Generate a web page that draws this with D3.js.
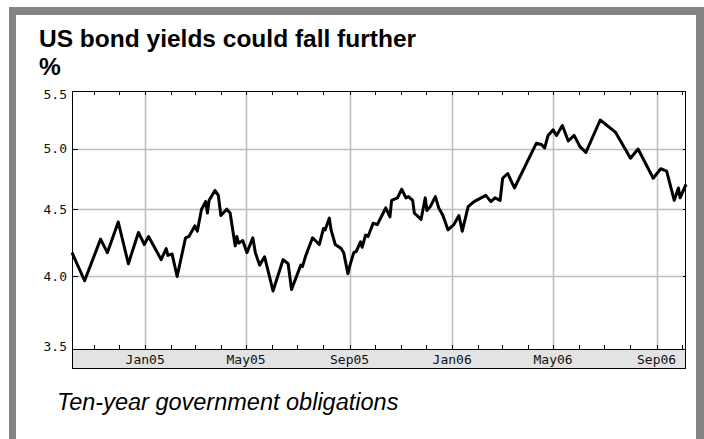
<!DOCTYPE html>
<html>
<head>
<meta charset="utf-8">
<script src="https://cdn.jsdelivr.net/npm/d3@7"></script>
<style>
  body { margin: 0; background: #fff; }
  svg { display: block; }
</style>
</head>
<body>
<svg width="704" height="439"></svg>
<script>
// ten-year yields (key turning points)
var dates = [
  "2004-10-06","2004-10-21","2004-11-09","2004-11-17","2004-11-30","2004-12-12","2004-12-24","2004-12-31",
  "2005-01-05","2005-01-20","2005-01-26","2005-01-28","2005-02-02","2005-02-08","2005-02-18","2005-02-22",
  "2005-03-01","2005-03-04","2005-03-09","2005-03-14","2005-03-16","2005-03-18","2005-03-25","2005-03-29",
  "2005-04-01","2005-04-08","2005-04-12","2005-04-18","2005-04-20","2005-04-22","2005-04-27","2005-05-02",
  "2005-05-09","2005-05-12","2005-05-17","2005-05-23","2005-06-02","2005-06-14","2005-06-20","2005-06-24",
  "2005-07-05","2005-07-07","2005-07-11","2005-07-19","2005-07-27","2005-08-01","2005-08-03","2005-08-08",
  "2005-08-10","2005-08-15","2005-08-22","2005-08-25","2005-08-30","2005-09-02","2005-09-06","2005-09-09",
  "2005-09-14","2005-09-16","2005-09-20","2005-09-23","2005-09-29","2005-10-04","2005-10-11","2005-10-14",
  "2005-10-19","2005-10-21","2005-10-28","2005-11-02","2005-11-07","2005-11-10","2005-11-15","2005-11-17",
  "2005-11-25","2005-11-30","2005-12-02","2005-12-06","2005-12-12","2005-12-16","2005-12-21","2005-12-27",
  "2006-01-03","2006-01-09","2006-01-13","2006-01-20","2006-01-27","2006-02-10","2006-02-16","2006-02-21",
  "2006-02-27","2006-03-02","2006-03-08","2006-03-16","2006-04-11","2006-04-17","2006-04-21","2006-04-25",
  "2006-05-01","2006-05-05","2006-05-12","2006-05-19","2006-05-26","2006-06-02","2006-06-09","2006-06-26",
  "2006-07-14","2006-08-01","2006-08-10","2006-08-28","2006-09-06","2006-09-13","2006-09-22","2006-09-27",
  "2006-09-29","2006-10-06"
];
var yields = [
  4.17, 3.97, 4.27, 4.17, 4.40, 4.09, 4.32, 4.23,
  4.29, 4.12, 4.20, 4.15, 4.16, 4.00, 4.28, 4.29,
  4.37, 4.33, 4.50, 4.56, 4.47, 4.57, 4.65, 4.61,
  4.45, 4.50, 4.47, 4.22, 4.29, 4.24, 4.26, 4.17,
  4.28, 4.17, 4.08, 4.14, 3.90, 4.12, 4.09, 3.91,
  4.08, 4.07, 4.15, 4.28, 4.23, 4.35, 4.34, 4.43,
  4.34, 4.23, 4.20, 4.17, 4.02, 4.09, 4.17, 4.18,
  4.25, 4.21, 4.30, 4.29, 4.39, 4.38, 4.47, 4.51,
  4.44, 4.57, 4.59, 4.66, 4.59, 4.60, 4.57, 4.47,
  4.42, 4.59, 4.49, 4.52, 4.60, 4.51, 4.45, 4.34,
  4.38, 4.45, 4.33, 4.52, 4.56, 4.61, 4.56, 4.59,
  4.57, 4.75, 4.79, 4.67, 5.05, 5.04, 5.01, 5.12,
  5.17, 5.12, 5.21, 5.07, 5.12, 5.02, 4.97, 5.26,
  5.15, 4.92, 5.00, 4.75, 4.83, 4.81, 4.57, 4.67,
  4.59, 4.70
];
var yTicks = [3.5, 4.0, 4.5, 5.0, 5.5];
var yGrid = [4.0, 4.5, 5.0];
var xMajor = ["2005-01-01","2005-05-01","2005-09-01","2006-01-01","2006-05-01","2006-09-01"];

var parse = d3.utcParse("%Y-%m-%d");
var data = dates.map(function(d, i) { return {date: parse(d), value: yields[i]}; });

function draw() {
  var svg = d3.select("svg");
  var pl = 72, pr = 686, pt = 91, pb = 349, band = 20;

  // grey frame
  svg.append("rect").attr("x", 9).attr("y", 7).attr("width", 695).attr("height", 440).attr("fill", "#848484");
  svg.append("rect").attr("x", 16).attr("y", 15).attr("width", 680).attr("height", 430).attr("fill", "#fff");

  svg.append("text")
     .attr("x", 39).attr("y", 47)
     .attr("font-family", "Liberation Sans, Arial, sans-serif")
     .attr("font-weight", "bold").attr("font-size", "24.5px")
     .text("US bond yields could fall further");
  svg.append("text")
     .attr("x", 39).attr("y", 75)
     .attr("font-family", "Liberation Sans, Arial, sans-serif")
     .attr("font-weight", "bold").attr("font-size", "24.5px")
     .text("%");
  svg.append("text")
     .attr("x", 57).attr("y", 410)
     .attr("font-family", "Liberation Sans, Arial, sans-serif")
     .attr("font-style", "italic").attr("font-size", "23.5px")
     .text("Ten-year government obligations");

  var xScale = d3.scaleUtc().domain([parse("2004-10-06"), parse("2006-10-06")]).range([pl, pr]),
      yScale = d3.scaleLog().domain([3.523, 5.534]).range([pb, pt]);

  var mono = "DejaVu Sans Mono, monospace";
  var px = function(v) { return Math.round(v) + 0.5; };

  // grid
  svg.append("g").selectAll("line").data(yGrid).enter().append("line")
     .attr("x1", pl).attr("x2", pr)
     .attr("y1", function(d) { return px(yScale(d)); })
     .attr("y2", function(d) { return px(yScale(d)); })
     .attr("stroke", "#bdbdbd").attr("stroke-width", 1.5);
  svg.append("g").selectAll("line").data(xMajor).enter().append("line")
     .attr("x1", function(d) { return px(xScale(parse(d))); })
     .attr("x2", function(d) { return px(xScale(parse(d))); })
     .attr("y1", pt).attr("y2", pb)
     .attr("stroke", "#bdbdbd").attr("stroke-width", 1.5);

  // date band
  svg.append("rect").attr("x", pl).attr("y", pb).attr("width", pr - pl).attr("height", band)
     .attr("fill", "#e3e3e3");

  // monthly ticks top and bottom
  var months = d3.utcMonth.range(xScale.domain()[0], xScale.domain()[1]);
  svg.append("g").selectAll("line").data(months).enter().append("line")
     .attr("x1", function(d) { return px(xScale(d)); })
     .attr("x2", function(d) { return px(xScale(d)); })
     .attr("y1", pt).attr("y2", pt + 4)
     .attr("stroke", "#000");
  svg.append("g").selectAll("line").data(months).enter().append("line")
     .attr("x1", function(d) { return px(xScale(d)); })
     .attr("x2", function(d) { return px(xScale(d)); })
     .attr("y1", pb - 4).attr("y2", pb)
     .attr("stroke", "#000");

  // y ticks on both sides
  svg.append("g").selectAll("line").data(yGrid).enter().append("line")
     .attr("x1", pl).attr("x2", pl + 6)
     .attr("y1", function(d) { return px(yScale(d)); })
     .attr("y2", function(d) { return px(yScale(d)); })
     .attr("stroke", "#000");
  svg.append("g").selectAll("line").data(yGrid).enter().append("line")
     .attr("x1", pr - 3).attr("x2", pr)
     .attr("y1", function(d) { return px(yScale(d)); })
     .attr("y2", function(d) { return px(yScale(d)); })
     .attr("stroke", "#000");

  svg.append("g").selectAll("text").data(yTicks).enter().append("text")
     .attr("x", pl - 5)
     .attr("y", function(d) { return Math.min(yScale(d), pb - 3) + 4.5; })
     .attr("text-anchor", "end")
     .attr("font-family", mono).attr("font-size", "13px").attr("fill", "#111")
     .text(function(d) { return d.toFixed(1); });

  svg.append("g").selectAll("text").data(xMajor).enter().append("text")
     .attr("x", function(d) { return xScale(parse(d)); })
     .attr("y", pb + 15)
     .attr("text-anchor", "middle")
     .attr("font-family", mono).attr("font-size", "13px").attr("fill", "#111")
     .text(function(d) { return d3.utcFormat("%b%y")(parse(d)); });

  // the line
  var line = d3.line()
     .x(function(d) { return xScale(d.date); })
     .y(function(d) { return yScale(d.value); });
  svg.append("path").datum(data)
     .attr("d", line)
     .attr("fill", "none").attr("stroke", "#000")
     .attr("stroke-width", 3).attr("stroke-linejoin", "round");

  // plot frame
  svg.append("rect").attr("x", pl + 0.5).attr("y", pt + 0.5)
     .attr("width", pr - pl - 1).attr("height", pb + band - pt - 1)
     .attr("fill", "none").attr("stroke", "#000");
  svg.append("line").attr("x1", pl).attr("x2", pr)
     .attr("y1", pb + 0.5).attr("y2", pb + 0.5).attr("stroke", "#000");
}
draw();
</script>
</body>
</html>
